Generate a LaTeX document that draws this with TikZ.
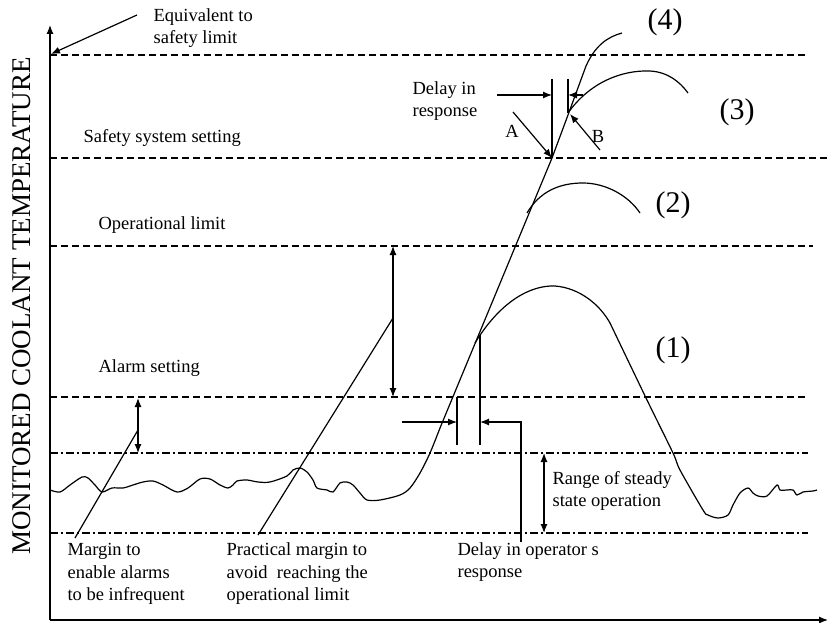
\documentclass[tikz,border=0pt]{standalone}
\usepackage{fontspec}
\setmainfont{Liberation Serif}
\usetikzlibrary{arrows.meta}

\tikzset{
  lbl/.style={font=\fontsize{18.5}{22.5}\selectfont, inner sep=0pt, align=left, anchor=west},
  num/.style={font=\fontsize{30}{32}\selectfont, inner sep=0pt},
  lim/.style={dash pattern=on 7pt off 4pt},
  band/.style={dash pattern=on 8pt off 3pt on 2pt off 3pt},
  arr/.style={-{Latex[length=9pt,width=7pt]}},
  darr/.style={{Latex[length=9pt,width=7pt]}-{Latex[length=9pt,width=7pt]}},
}

\begin{document}
\begin{tikzpicture}[x=1pt,y=-1pt,line width=1.2pt]
  \useasboundingbox (0,0) rectangle (828,623);

  %軸を書く
  \coordinate (o) at (50,620);
  \coordinate (ytop) at (50,25);
  \coordinate (xend) at (828,620);
  \draw[arr] (o) -- (ytop);
  \draw[arr] (o) -- (xend);
  \node[rotate=90, font=\fontsize{27}{27}\selectfont, inner sep=0pt] (ylab) at (22,306) {MONITORED COOLANT TEMPERATURE};

  %限界線を書く
  \draw[lim] (50,55) -- (808,55);
  \draw[lim] (50,158) -- (828,158);
  \draw[lim] (50,246) -- (813,246);
  \draw[lim] (50,397) -- (808,397);
  \draw[band] (50,453) -- (808,453);
  \draw[band] (50,533) -- (808,533);

  %温度の曲線を書く
  \draw plot[smooth, tension=0.5] coordinates {
    (50,490) (60,492) (70,485) (82,477) (88,478) (95,485) (102,492) (112,488)
    (123,488) (133,485) (143,482) (153,481) (163,485) (177,492) (188,488)
    (200,479) (210,479) (220,485) (228,488) (233,485) (237,481) (247,480)
    (258,482) (270,482) (287,476) (293,470) (300,468) (307,472) (313,480)
    (317,488) (327,490) (333,492) (340,483) (347,482) (353,485) (360,493)
    (367,500) (380,500) (400,495) (410,488) (420,473) (430,453) (440,428)};
  \draw (440,428) -- (552,158) -- (568,115) -- (586,66)
        .. controls (595,46) and (607,37) .. (622,33);
  % (1)
  \draw (475,343) .. controls (500,302) and (530,285) .. (555,286)
        .. controls (580,288) and (600,305) .. (610,323);
  \draw plot[smooth, tension=0.5] coordinates {
    (610,323) (647,400) (673,453) (680,470) (703,510) (708,515) (718,518)
    (728,515) (733,505) (740,493) (748,488) (753,493) (758,496) (767,496)
    (777,485) (780,490) (787,490) (793,490) (797,495) (803,492) (813,491)
    (817,490)};
  % (2)
  \draw (527,213) .. controls (540,191) and (560,183) .. (583,183)
        .. controls (605,183) and (628,195) .. (640,213);
  % (3)
  \draw (568,113) .. controls (590,82) and (622,70) .. (650,71)
        .. controls (668,72) and (680,82) .. (688,93);

  %文字を書く
  \node[lbl] (equiv) at (153,28) {Equivalent to\\safety limit};
  \node[lbl] (safety) at (83,138) {Safety system setting};
  \node[lbl] (oplim) at (98,225) {Operational limit};
  \node[lbl] (alarm) at (98,368) {Alarm setting};
  \node[lbl] (delay) at (412,101) {Delay in\\response};
  \node[lbl] (range) at (552,491) {Range of steady\\state operation};
  \node[lbl] (opdelay) at (457,562) {Delay in operator s\\response};
  \node[lbl] (practical) at (226,574) {Practical margin to\\avoid\ \ reaching the\\operational limit};
  \node[lbl] (margin) at (67,574) {Margin to\\enable alarms\\to be infrequent};
  \node[lbl, anchor=center] (a) at (512,131) {A};
  \node[lbl, anchor=center] (b) at (598,136) {B};
  \node[num] (c4) at (665,22) {(4)};
  \node[num] (c3) at (737,112) {(3)};
  \node[num] (c2) at (673,205) {(2)};
  \node[num] (c1) at (673,350) {(1)};

  %矢印を書く
  \coordinate (eqtail) at (137,15);
  \coordinate (eqtip) at (51,54);
  \draw[arr] (eqtail) -- (eqtip);

  \coordinate (dl) at (552,79);
  \coordinate (dlb) at (552,158);
  \coordinate (dr) at (568,79);
  \coordinate (drb) at (568,113);
  \draw (dl) -- (dlb);
  \draw (dr) -- (drb);
  \draw[arr] (497,95) -- (552,95);
  \draw[arr] (583,95) -- (568,95);

  \coordinate (atail) at (513,112);
  \coordinate (btail) at (600,150);
  \coordinate (btip) at (570,114);
  \draw[arr] (atail) -- (dlb);
  \draw[arr] (btail) -- (btip);

  \coordinate (ol) at (457,397);
  \coordinate (olb) at (457,445);
  \coordinate (or) at (480,335);
  \coordinate (orb) at (480,445);
  \draw (ol) -- (olb);
  \draw (or) -- (orb);
  \draw[arr] (402,422) -- (457,422);
  \draw[arr] (521,542) -- (521,422) -- (480,422);

  \draw[darr] (544,453) -- (544,533);

  \draw[darr] (138,398) -- (138,453);
  \draw (138,430) -- (75,538);

  \draw[darr] (393,246) -- (393,397);
  \draw (393,318) -- (258,535);
\end{tikzpicture}
\end{document}
